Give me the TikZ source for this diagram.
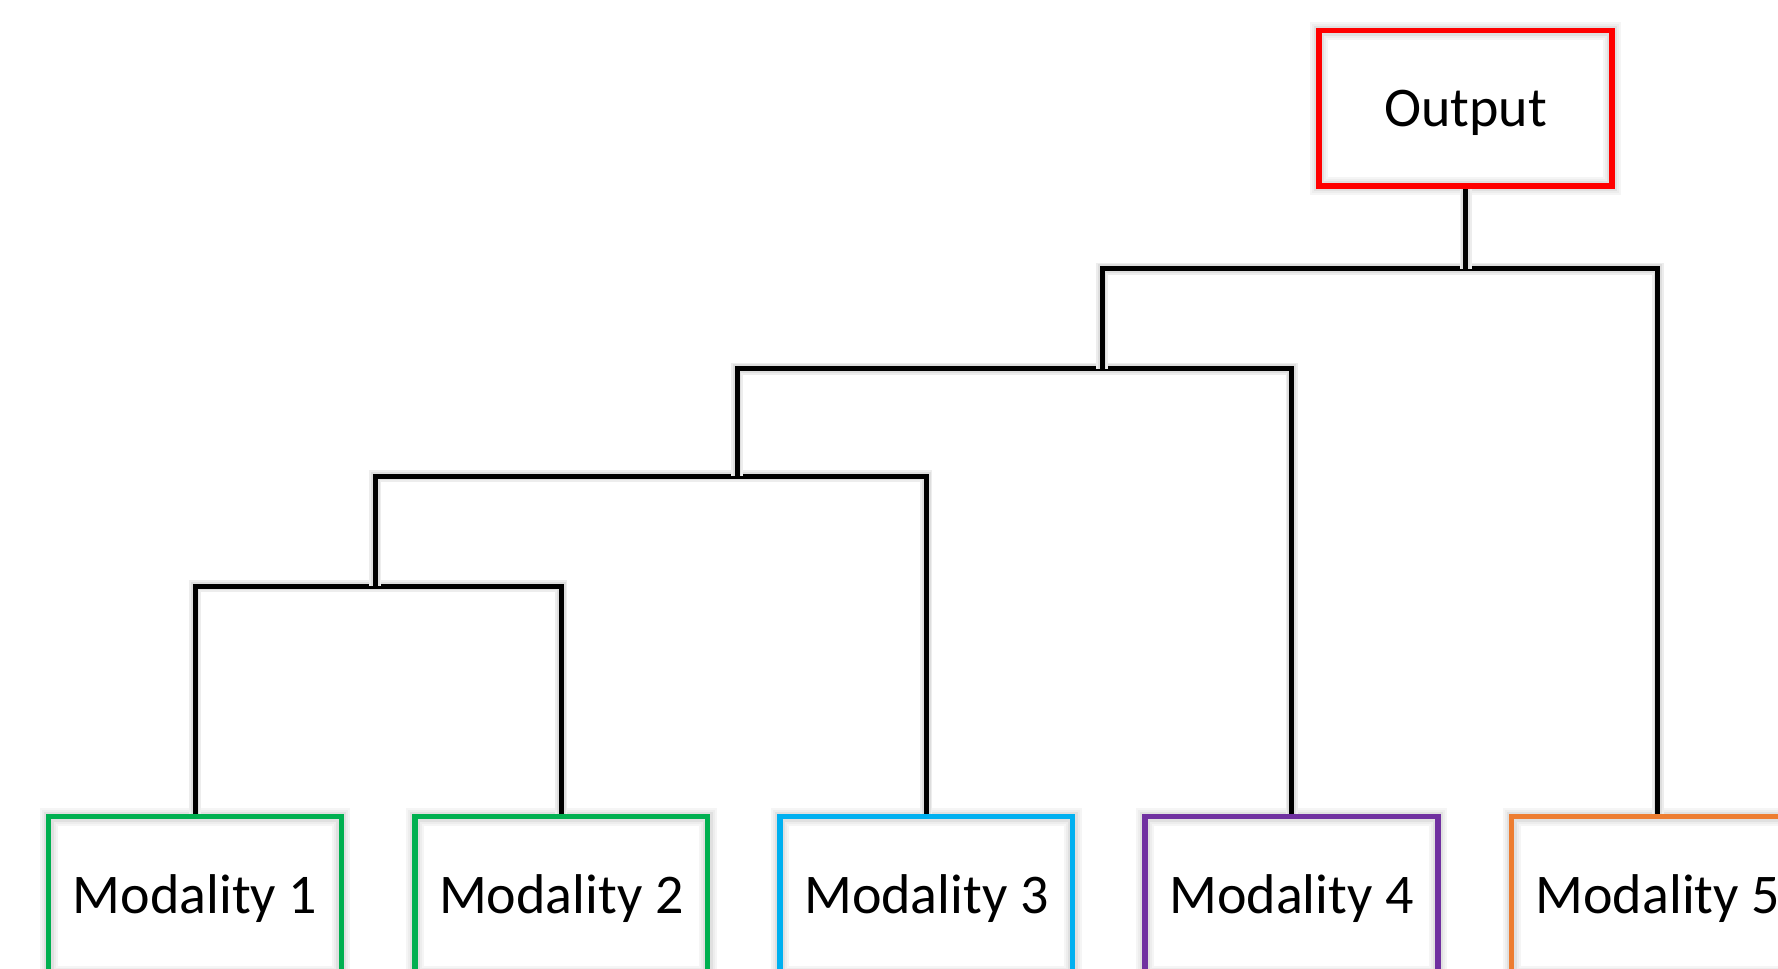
\documentclass[tikz,border=0pt]{standalone}
\usepackage{fontspec}
\setmainfont{Carlito}
\definecolor{cred}{HTML}{FF0000}
\definecolor{cgreen}{HTML}{00B050}
\definecolor{cblue}{HTML}{00B0F0}
\definecolor{cpurple}{HTML}{7030A0}
\definecolor{corange}{HTML}{ED7D31}
\pgfdeclarelayer{halo}
\pgfdeclarelayer{links}
\pgfsetlayers{halo,links,main}
\begin{document}
\begin{tikzpicture}[x=1pt,y=-1pt,
  box/.style={draw, line width=5.5pt, minimum width=292.6pt, outer sep=0pt,
    inner sep=0pt, font=\fontsize{56}{60}\selectfont, text height=36pt, text depth=0pt},
  modbox/.style={box, minimum height=158pt, anchor=north},
  boxhalo/.style={draw=black!7, line width=14pt,
    preaction={draw=black!4, line width=18pt},
    postaction={draw=black!12, line width=10pt}},
  link/.style={draw=black, line width=5pt, line cap=rect,
    preaction={draw=black!7, line width=12pt},
    preaction={draw=black!13, line width=8.5pt}}]
\useasboundingbox (0,0) rectangle (1778,969);
% boxes
\node[box, draw=cred, minimum height=155.4pt] (out) at (1465.5,108.3) {Output};
\node[modbox, draw=cgreen] (m1) at (195.0,816.7) {Modality 1};
\node[modbox, draw=cgreen] (m2) at (561.3,816.7) {Modality 2};
\node[modbox, draw=cblue] (m3) at (926.4,816.7) {Modality 3};
\node[modbox, draw=cpurple] (m4) at (1291.5,816.7) {Modality 4};
\node[modbox, draw=corange] (m5) at (1657.8,816.7) {Modality 5};
% soft shadows round the boxes
\begin{pgfonlayer}{halo}
\foreach \b in {out,m1,m2,m3,m4,m5}
  \path[boxhalo] (\b.north west) rectangle (\b.south east);
\end{pgfonlayer}
% junctions
\coordinate (j4) at (375.3,586.2);
\coordinate (j3) at (737.0,476.2);
\coordinate (j2) at (1102.2,368.5);
\coordinate (j1) at (1465.5,268.7);
% connectors, under the boxes
\begin{pgfonlayer}{links}
\path[link] (m1.north) |- (j4) -| (m2.north);
\path[link] (j4) |- (j3) -| (m3.north);
\path[link] (j3) |- (j2) -| (m4.north);
\path[link] (j2) |- (j1) -| (m5.north);
\path[link] (j1) -- (out.south);
\end{pgfonlayer}
\end{tikzpicture}
\end{document}
